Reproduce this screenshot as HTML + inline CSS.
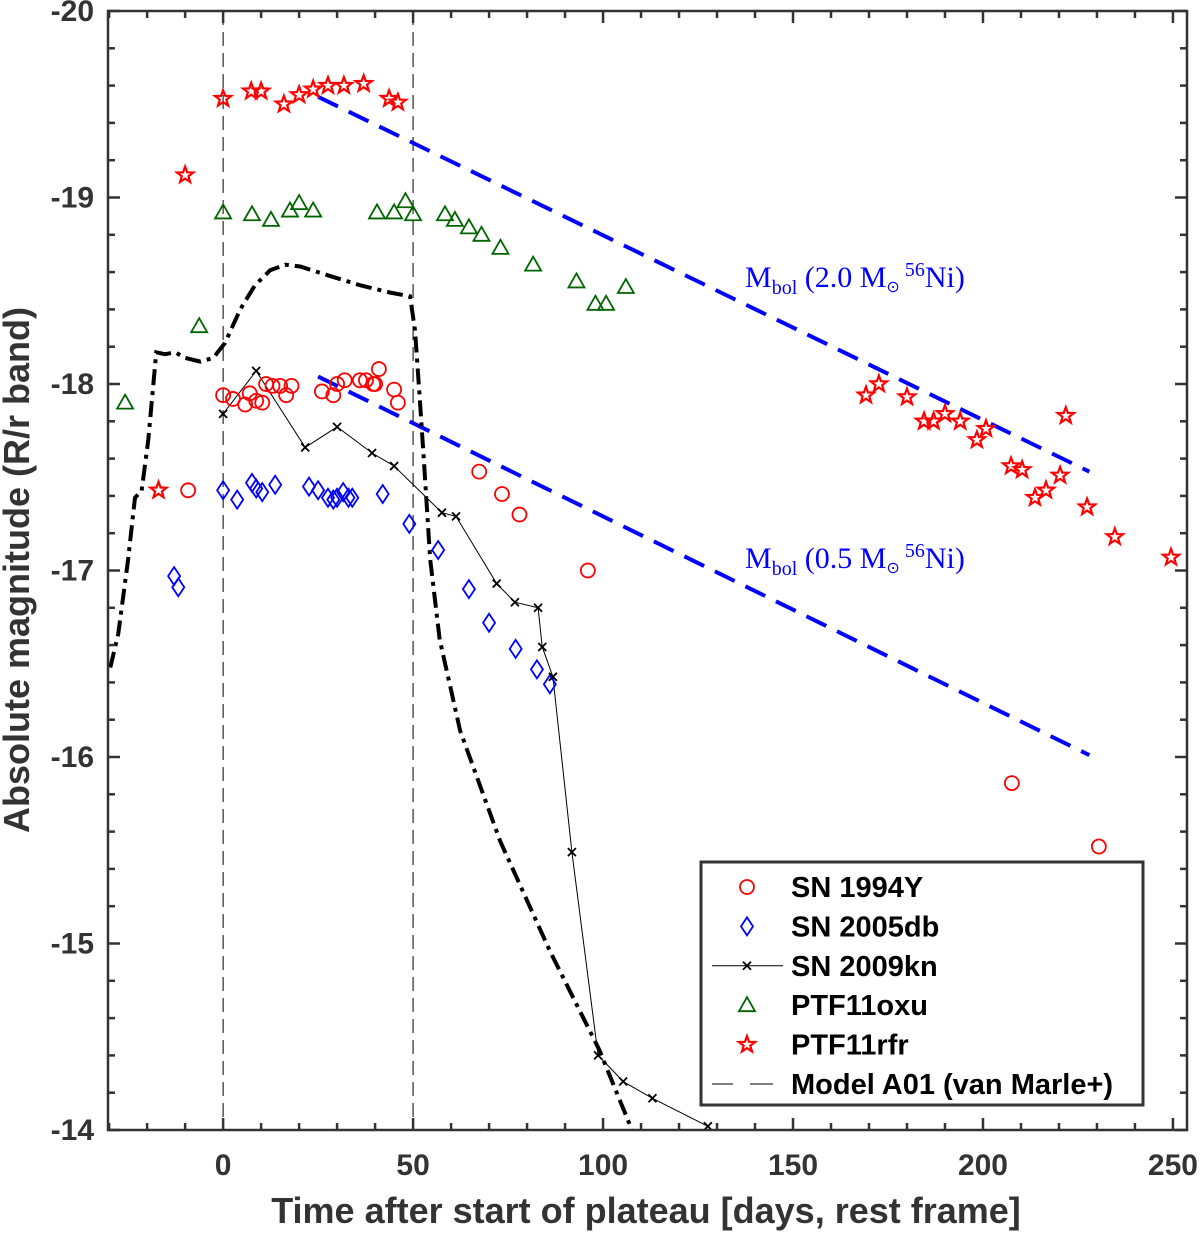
<!DOCTYPE html>
<html><head><meta charset="utf-8"><style>
body{margin:0;background:#fff;width:1200px;height:1233px;overflow:hidden}
svg{display:block}
text{font-family:"Liberation Sans",sans-serif}
</style></head><body>
<svg id="chart" width="1200" height="1233" xmlns="http://www.w3.org/2000/svg"></svg>
<script>
const sn1994Y_x=[0,2.6,5.8,7,8.7,10.3,11.3,13,15,16.6,18,26,29,30,32,36,37.6,39.5,41,40,45,46,-9.2,67.4,73.4,78,96,207.6,230.5];
const sn1994Y_y=[-17.94,-17.92,-17.89,-17.95,-17.91,-17.9,-18.0,-17.99,-17.99,-17.94,-17.99,-17.96,-17.94,-18.0,-18.02,-18.02,-18.02,-18.0,-18.08,-18.0,-17.97,-17.9,-17.43,-17.53,-17.41,-17.3,-17.0,-15.86,-15.52];
const sn2005db_x=[-12.9,-11.8,0,3.7,7.6,8.7,10.3,13.7,22.6,25,27.6,29,30,31.6,33,34,42,49,56.6,64.7,70,77,82.6,86];
const sn2005db_y=[-16.97,-16.91,-17.43,-17.38,-17.47,-17.44,-17.42,-17.46,-17.45,-17.43,-17.39,-17.38,-17.39,-17.42,-17.39,-17.39,-17.41,-17.25,-17.11,-16.9,-16.72,-16.58,-16.47,-16.39];
const sn2009kn_x=[0,8.7,21.6,30,39.2,45,57.6,61.3,72,76.8,82.9,84,86.8,91.8,98.7,105.3,113,127.6];
const sn2009kn_y=[-17.84,-18.07,-17.66,-17.77,-17.63,-17.56,-17.31,-17.29,-16.93,-16.83,-16.8,-16.59,-16.43,-15.49,-14.40,-14.26,-14.17,-14.02];
const ptf11oxu_x=[-25.8,-6.3,0,7.6,12.6,17.6,20,23.7,40.5,45,48,50,58.4,61,64.7,68,73,81.6,93,98,100.8,106];
const ptf11oxu_y=[-17.9,-18.31,-18.92,-18.91,-18.88,-18.93,-18.97,-18.93,-18.92,-18.92,-18.98,-18.91,-18.91,-18.88,-18.84,-18.8,-18.73,-18.64,-18.55,-18.43,-18.43,-18.52];
const ptf11rfr_x=[-17,-10,0,7.4,10,16,20,23.7,27.6,31.8,37,43.7,46,169.2,172.6,180,184.5,187,190,194,198.4,200.8,207.4,210.3,213.7,216.6,220.3,221.8,227.4,234.7,249.5];
const ptf11rfr_y=[-17.43,-19.12,-19.53,-19.57,-19.57,-19.5,-19.55,-19.58,-19.6,-19.6,-19.61,-19.53,-19.51,-17.94,-18.0,-17.93,-17.8,-17.8,-17.84,-17.8,-17.7,-17.76,-17.56,-17.54,-17.39,-17.43,-17.51,-17.83,-17.34,-17.18,-17.07];
const model_x=[-29.7,-27.6,-25,-23.2,-22.3,-21.5,-19.7,-17.6,-15.3,-12.6,-10,-6,-2.6,0.5,4.5,8.4,12.4,16.3,20.3,28,36,44,49.2,50.5,51.8,53,54.5,57,62.4,72.9,86,99,107.6];
const model_y=[-16.48,-16.66,-17.06,-17.39,-17.41,-17.42,-17.7,-18.17,-18.16,-18.17,-18.14,-18.12,-18.14,-18.22,-18.4,-18.53,-18.61,-18.64,-18.63,-18.58,-18.53,-18.49,-18.47,-18.29,-17.91,-17.54,-17.06,-16.63,-16.14,-15.55,-14.96,-14.43,-14.0];
const ni20_x=[25,228], ni20_y=[-19.54,-17.53];
const ni05_x=[25,228], ni05_y=[-18.04,-16.01];
const xTicks=[0,50,100,150,200,250];
const yTicks=[-20,-19,-18,-17,-16,-15,-14];

const L=108,R=1187,T=11,B=1130, X0=-30.3, X1=253.7, Y0=-20, Y1=-14;
const sx=v=>L+(v-X0)/(X1-X0)*(R-L);
const sy=v=>T+(v-Y0)/(Y1-Y0)*(B-T);
const svg=document.getElementById('chart');
const NS='http://www.w3.org/2000/svg';
function mk(tag,attrs,parent){const e=document.createElementNS(NS,tag);for(const k in attrs)e.setAttribute(k,attrs[k]);(parent||svg).appendChild(e);return e;}
const clip=mk('clipPath',{id:'pc'});mk('rect',{x:L,y:T,width:R-L,height:B-T},clip);
const plot=mk('g',{'clip-path':'url(#pc)'});



[0,50].forEach(v=>{const l=mk('line',{x1:sx(v),x2:sx(v),y1:T,y2:B,stroke:'#000','stroke-width':1,'stroke-dasharray':'14,7'},plot);

});

function poly(xs,ys,attrs,name){const p=mk('polyline',Object.assign({points:xs.map((x,i)=>sx(x)+','+sy(ys[i])).join(' '),fill:'none'},attrs),plot);

return p;}
poly(ni20_x,ni20_y,{stroke:'#0000ff','stroke-width':4,'stroke-dasharray':'22,12'},'ni-2.0-line');
poly(ni05_x,ni05_y,{stroke:'#0000ff','stroke-width':4,'stroke-dasharray':'22,12'},'ni-0.5-line');
poly(model_x,model_y,{stroke:'#000','stroke-width':4,'stroke-dasharray':'16,6,4,6'},'model-a01-line');
poly(sn2009kn_x,sn2009kn_y,{stroke:'#000','stroke-width':1},'sn2009kn-line');

function marker(type,cx,cy,g){
  if(type==='o') return mk('circle',{cx,cy,r:7,fill:'none',stroke:'#ff0000','stroke-width':1.8},g);
  if(type==='d') return mk('polygon',{points:`${cx},${cy-9} ${cx+6},${cy} ${cx},${cy+9} ${cx-6},${cy}`,fill:'none',stroke:'#0000ff','stroke-width':1.8},g);
  if(type==='x') return mk('path',{d:`M${cx-4},${cy-4}L${cx+4},${cy+4}M${cx-4},${cy+4}L${cx+4},${cy-4}`,stroke:'#000','stroke-width':1.8},g);
  if(type==='t') return mk('polygon',{points:`${cx},${cy-8} ${cx+8},${cy+6} ${cx-8},${cy+6}`,fill:'none',stroke:'#006400','stroke-width':1.8},g);
  if(type==='s'){let p=[];for(let i=0;i<10;i++){const r=i%2?3.5:8.5,a=-Math.PI/2+i*Math.PI/5;p.push((cx+r*Math.cos(a)).toFixed(1)+','+(cy+r*Math.sin(a)).toFixed(1));}
    return mk('polygon',{points:p.join(' '),fill:'none',stroke:'#ff0000','stroke-width':2.2},g);}
}
function series(xs,ys,type,name){xs.forEach((x,i)=>{const m=marker(type,sx(x),sy(ys[i]),plot);

});}
series(sn1994Y_x,sn1994Y_y,'o','sn1994y');
series(sn2005db_x,sn2005db_y,'d','sn2005db');
series(sn2009kn_x,sn2009kn_y,'x','sn2009kn');
series(ptf11oxu_x,ptf11oxu_y,'t','ptf11oxu');
series(ptf11rfr_x,ptf11rfr_y,'s','ptf11rfr');

function ann(y,mass,name){const t=mk('text',{x:745,y:y,fill:'#0000ff','font-size':30,style:'font-family:"Liberation Serif",serif'});
t.innerHTML=`M<tspan font-size="20" dy="7">bol</tspan><tspan dy="-7"> (${mass} M</tspan><tspan font-size="16" dy="5">⊙</tspan><tspan font-size="20" dy="-16"> 56</tspan><tspan dy="11">Ni)</tspan>`;

}
ann(287,'2.0','ni-2.0-label');
ann(568,'0.5','ni-0.5-label');

const ax=mk('g',{stroke:'#333','stroke-width':2.5});


mk('rect',{x:L,y:T,width:R-L,height:B-T,fill:'none'},ax);
for(let v=-30;v<=250;v+=10){const x=sx(v),len=(v%50===0)?12:7;mk('line',{x1:x,x2:x,y1:B,y2:B-len},ax);mk('line',{x1:x,x2:x,y1:T,y2:T+len},ax);}
for(let k=0;k<=30;k++){const v=-20+k*0.2,y=sy(v),len=(k%5===0)?12:7;mk('line',{x1:L,x2:L+len,y1:y,y2:y},ax);mk('line',{x1:R,x2:R-len,y1:y,y2:y},ax);}
xTicks.forEach(v=>{const t=mk('text',{x:sx(v),y:1175,'text-anchor':'middle','font-size':30,'font-weight':'bold',fill:'#333'});t.textContent=v;

});
yTicks.forEach(v=>{const t=mk('text',{x:94,y:sy(v)+10,'text-anchor':'end','font-size':30,'font-weight':'bold',fill:'#333'});t.textContent=v;

});
const xt=mk('text',{x:646,y:1223,'text-anchor':'middle','font-size':36,'font-weight':'bold',fill:'#333'});xt.textContent='Time after start of plateau [days, rest frame]';


const yt=mk('text',{x:0,y:0,'text-anchor':'middle','font-size':36,'font-weight':'bold',fill:'#333',transform:'translate(29,570) rotate(-90)'});yt.textContent='Absolute magnitude (R/r band)';



const lg=mk('g',{});


mk('rect',{x:701,y:862,width:442,height:243,fill:'#fff',stroke:'#333','stroke-width':3},lg);
const legNames=['SN 1994Y','SN 2005db','SN 2009kn','PTF11oxu','PTF11rfr','Model A01 (van Marle+)'];
const legTypes=['o','d','x','t','s','m'];
legNames.forEach((n,i)=>{const y=887+i*39.4;
 const e=mk('g',{},lg);
 
 
 if(legTypes[i]==='x') mk('line',{x1:712,x2:783,y1:y,y2:y,stroke:'#000','stroke-width':1},e);
 if(legTypes[i]==='m'){mk('line',{x1:712,x2:733,y1:y,y2:y,stroke:'#000','stroke-width':1},e);mk('line',{x1:750,x2:773,y1:y,y2:y,stroke:'#000','stroke-width':1},e);}
 else marker(legTypes[i],747,y,e);
 const t=mk('text',{x:791,y:y+10,'font-size':29,'font-weight':'bold',fill:'#000'},e);t.textContent=n;});
</script>
</body></html>
